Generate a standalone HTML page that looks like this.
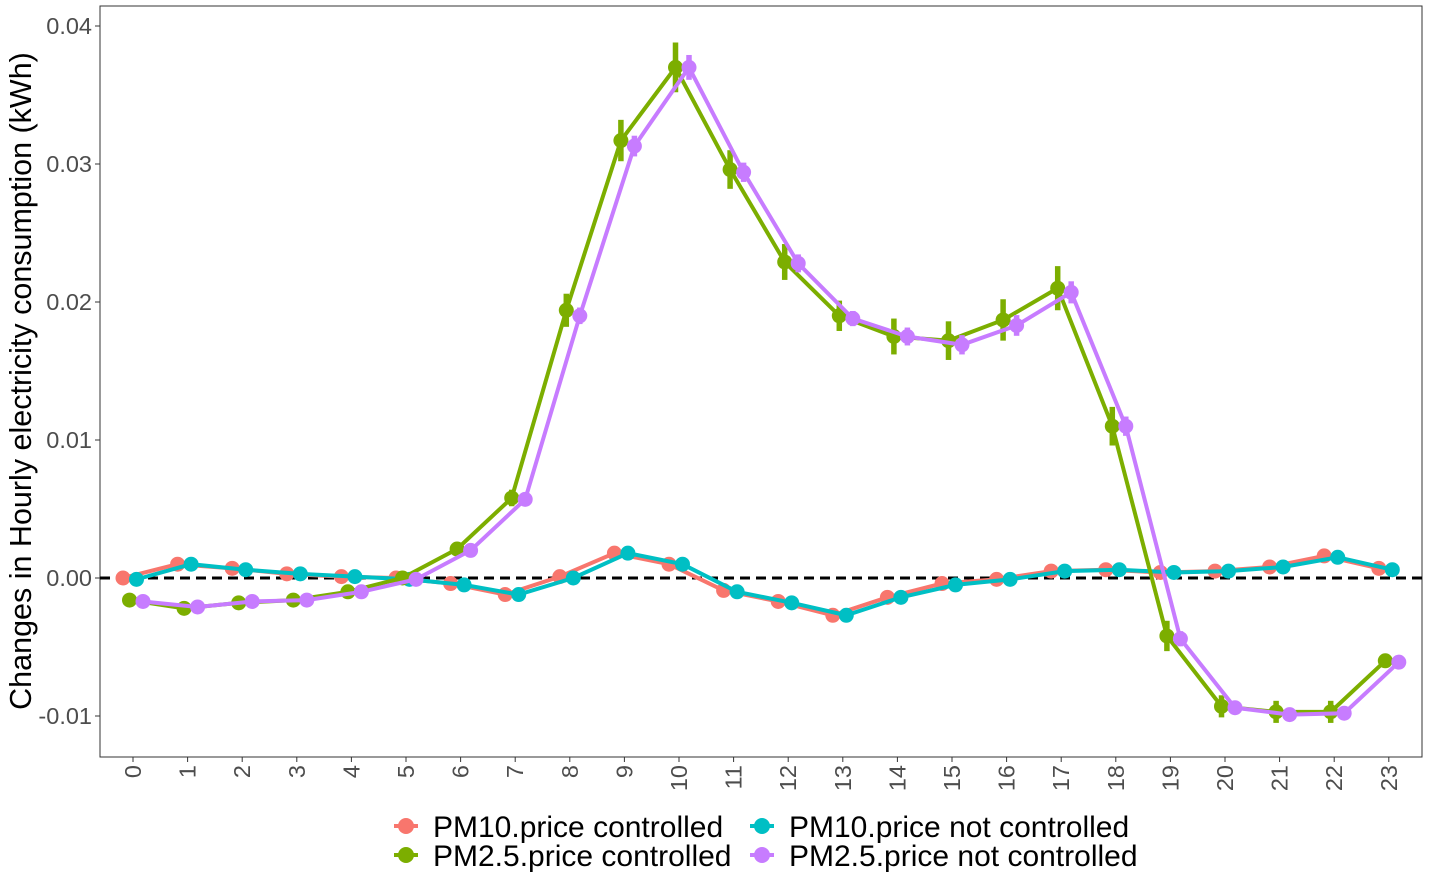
<!DOCTYPE html><html><head><style>body{margin:0;background:#fff}</style></head><body>
<svg id="s" width="1429" height="882" xmlns="http://www.w3.org/2000/svg" font-family="Liberation Sans, sans-serif"></svg>
<script>
const s=document.getElementById('s');let h='';
const X=t=>133+54.6*t, Y=v=>578-v*13800;
h+='<rect x="100" y="6" width="1322" height="751" fill="none" stroke="#333" stroke-width="1"/>';
[[-0.01,'-0.01'],[0,'0.00'],[0.01,'0.01'],[0.02,'0.02'],[0.03,'0.03'],[0.04,'0.04']].forEach(([v,l])=>{h+=`<line x1="95" x2="100" y1="${Y(v)}" y2="${Y(v)}" stroke="#333"/><text x="92" y="${Y(v)+8}" text-anchor="end" font-size="23.5" fill="#4d4d4d">${l}</text>`});
for(let t=0;t<24;t++){h+=`<line x1="${X(t)}" x2="${X(t)}" y1="757" y2="762" stroke="#333"/><text transform="translate(${X(t)+8},765) rotate(-90)" text-anchor="end" font-size="23.5" fill="#4d4d4d">${t}</text>`}
h+=`<text transform="translate(31,381) rotate(-90)" text-anchor="middle" font-size="30.5" fill="#000">Changes in Hourly electricity consumption (kWh)</text>`;
h+=`<line x1="100" x2="1422" y1="578" y2="578" stroke="#000" stroke-width="3" stroke-dasharray="10,6"/>`;
const R=[0,.001,.0007,.0003,.0001,0,-.0004,-.0012,.0001,.0018,.001,-.0009,-.0017,-.0027,-.0014,-.0004,-.0001,.0005,.0006,.0004,.0005,.0008,.0016,.0007];
const C=[-.0001,.001,.0006,.0003,.0001,-.0001,-.0005,-.0012,0,.0018,.001,-.001,-.0018,-.0027,-.0014,-.0005,-.0001,.0005,.0006,.0004,.0005,.0008,.0015,.0006];
const G=[-.0016,-.0022,-.0018,-.0016,-.001,0,.0021,.0058,.0194,.0317,.037,.0296,.0229,.019,.0175,.0172,.0187,.021,.011,-.0042,-.0093,-.0097,-.0097,-.006];
const P=[-.0017,-.0021,-.0017,-.0016,-.001,-.0001,.002,.0057,.019,.0313,.037,.0294,.0228,.0188,.0175,.0169,.0183,.0207,.011,-.0044,-.0094,-.0099,-.0098,-.0061];
const GE=[.0002,.0002,.0002,.0002,.0002,.0002,.0003,.0006,.0012,.0015,.0018,.0014,.0013,.0011,.0013,.0014,.0015,.0016,.0014,.0011,.0008,.0008,.0008,.0004];
function ser(d,off,col,e){let p=d.map((v,t)=>`${X(t)+off},${Y(v)}`).join(' ');h+=`<polyline points="${p}" fill="none" stroke="${col}" stroke-width="4"/>`;
d.forEach((v,t)=>{if(e)h+=`<line x1="${X(t)+off}" x2="${X(t)+off}" y1="${Y(v+e[t])}" y2="${Y(v-e[t])}" stroke="${col}" stroke-width="5.5"/>`;h+=`<circle cx="${X(t)+off}" cy="${Y(v)}" r="7.5" fill="${col}"/>`})}
ser(R,-10,'#F8766D');ser(C,3.5,'#00BFC4');ser(G,-3.5,'#7CAE00',GE);ser(P,10,'#C77CFF',GE.map(x=>x*0.5));
function leg(x,y,col,l){h+=`<line x1="${x-12}" x2="${x+12}" y1="${y}" y2="${y}" stroke="${col}" stroke-width="4"/><circle cx="${x}" cy="${y}" r="8" fill="${col}"/><text x="${x+27}" y="${y+11}" font-size="30">${l}</text>`}
leg(406,826,'#F8766D','PM10.price controlled');leg(406,855,'#7CAE00','PM2.5.price controlled');
leg(762,826,'#00BFC4','PM10.price not controlled');leg(762,855,'#C77CFF','PM2.5.price not controlled');
s.innerHTML=h;
</script></body></html>
